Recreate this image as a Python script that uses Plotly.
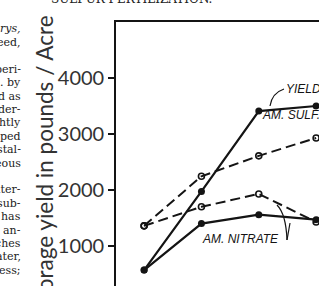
import plotly.graph_objects as go

# ---- data ----
rates = [0, 1, 2, 3]
yield_am_sulf = [570, 1975, 3410, 3500]
yield_am_nitrate = [570, 1400, 1560, 1470]
dashed_am_sulf = [1360, 2245, 2610, 2930]
dashed_am_nitrate = [1360, 1700, 1930, 1430]
y_ticks = [1000, 2000, 3000, 4000]
y_tick_labels = ["1000", "2000", "3000", "4000"]

side_text = ["<i>rys,</i>", "eed,", "", "peri-", ". by", "d as", "der-", "htly", "ped",
             "stal-", "eous", "", "iter-", "sub-", "has", "an-", "ches", "ater,", "ess;"]

W, H = 319, 286
L, T = 116, 22
PW, PH = W - L, H - T

def px(x):
    return (x - L) / PW

def py(y):
    return (H - y) / PH

fig = go.Figure()

ink = "#141414"
for ys in (dashed_am_sulf, dashed_am_nitrate):
    fig.add_trace(go.Scatter(x=rates, y=ys, mode="lines+markers",
                             line=dict(color=ink, width=2, dash="10px,5px"),
                             marker=dict(symbol="circle-open", size=6, color=ink, line=dict(width=1.6))))
for ys in (yield_am_sulf, yield_am_nitrate):
    fig.add_trace(go.Scatter(x=rates, y=ys, mode="lines+markers",
                             line=dict(color=ink, width=2.2),
                             marker=dict(symbol="circle", size=7, color=ink)))

ann = []
# y-axis title
ann.append(dict(text="Forage yield in pounds / Acre", textangle=-90, xref="paper", yref="paper",
                x=px(45), y=py(13), xanchor="center", yanchor="top", showarrow=False,
                font=dict(family="Lato", size=22.5, color="#333")))
# series labels
lab_font = dict(family="Liberation Sans", size=12, color=ink)
ann.append(dict(text="<i>YIELD</i>", xref="paper", yref="paper", x=px(284), y=py(89),
                xanchor="left", yanchor="middle", showarrow=False, font=lab_font))
ann.append(dict(text="<i>AM. SULF.</i>", xref="paper", yref="paper", x=px(260), y=py(115),
                xanchor="left", yanchor="middle", showarrow=False, font=lab_font))
ann.append(dict(text="<i>AM. NITRATE</i>", xref="paper", yref="paper", x=px(200), y=py(239),
                xanchor="left", yanchor="middle", showarrow=False, font=lab_font))
# left text column of the book page
for i, s in enumerate(side_text):
    if s:
        ann.append(dict(text=s, xref="paper", yref="paper", x=px(23), y=py(29 + i * 13.4),
                        xanchor="right", yanchor="middle", showarrow=False,
                        font=dict(family="DejaVu Serif", size=11, color="#222")))
# page heading, cut at the top
ann.append(dict(text="SULFUR FERTILIZATION.", xref="paper", yref="paper", x=px(131), y=py(-1),
                xanchor="center", yanchor="middle", showarrow=False,
                font=dict(family="DejaVu Serif", size=12, color="#222")))

shapes = [
    # leader for YIELD
    dict(type="path", xref="paper", yref="paper",
         path=f"M {px(270)},{py(106)} Q {px(272)},{py(93)} {px(284)},{py(89)}",
         line=dict(color=ink, width=1.2)),
    # leaders for AM. NITRATE
    dict(type="path", xref="paper", yref="paper",
         path=f"M {px(277)},{py(205)} Q {px(286)},{py(214)} {px(287)},{py(240)}",
         line=dict(color=ink, width=1.2)),
    dict(type="line", xref="paper", yref="paper", x0=px(287), y0=py(240), x1=px(290), y1=py(223),
         line=dict(color=ink, width=1.2)),
]

fig.update_layout(
    width=W, height=H,
    margin=dict(l=L, r=0, t=T, b=0),
    paper_bgcolor="white", plot_bgcolor="white",
    showlegend=False,
    annotations=ann, shapes=shapes,
    xaxis=dict(range=[-0.49, 3.05], showgrid=False, zeroline=False, side="top",
               showline=True, linecolor=ink, linewidth=1.6, ticks="", showticklabels=False),
    yaxis=dict(range=[286, 5000], showgrid=False, zeroline=False,
               showline=True, linecolor=ink, linewidth=1.6,
               tickvals=y_ticks, ticktext=y_tick_labels, ticks="outside", ticklen=6,
               tickwidth=1.5, tickcolor=ink,
               tickfont=dict(family="Lato", size=20, color="#333")),
)

fig.write_html("out.html")
